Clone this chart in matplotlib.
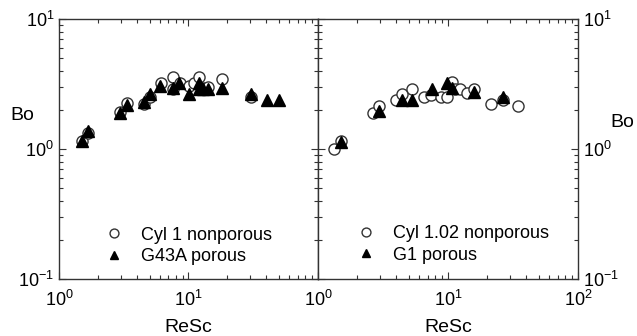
import numpy as np
import matplotlib
matplotlib.use('Agg')
from matplotlib import pyplot as plt

plt.rcParams['font.family'] = ['Liberation Sans', 'DejaVu Sans']
plt.rcParams['mathtext.fontset'] = 'custom'
plt.rcParams['mathtext.rm'] = 'Liberation Sans'

# left panel: Cyl 1 nonporous (circles), G43A porous (triangles)
cyl1_x = [1.50, 1.68, 2.96, 3.37, 4.56, 5.04, 6.10, 7.55, 7.55, 8.6, 10.1, 11.0, 12.0, 13.0, 14.2, 18.0, 30.2]
cyl1_y = [1.16, 1.32, 1.94, 2.27, 2.22, 2.53, 3.20, 3.60, 2.90, 3.20, 3.05, 3.20, 3.60, 2.93, 2.98, 3.44, 2.53]
g43a_x = [1.50, 1.68, 2.96, 3.37, 4.56, 5.04, 6.0, 7.6, 8.5, 10.1, 12.1, 12.1, 13.0, 14.2, 18.0, 30.2, 40.6, 50.3]
g43a_y = [1.15, 1.37, 1.90, 2.18, 2.31, 2.64, 3.05, 2.93, 3.24, 2.65, 3.20, 2.88, 2.88, 2.90, 2.93, 2.65, 2.38, 2.38]

# right panel: Cyl 1.02 nonporous (circles), G1 porous (triangles)
cyl102_x = [1.33, 1.50, 2.64, 2.96, 3.98, 4.40, 5.26, 6.54, 7.36, 8.79, 9.77, 10.7, 11.3, 12.4, 14.1, 15.9, 21.3, 26.4, 34.7]
cyl102_y = [1.00, 1.16, 1.90, 2.14, 2.38, 2.64, 2.88, 2.50, 2.60, 2.50, 2.53, 3.29, 2.88, 2.88, 2.68, 2.88, 2.22, 2.38, 2.14]
g1_x = [1.50, 2.96, 4.40, 5.26, 7.5, 9.77, 10.7, 15.9, 26.4]
g1_y = [1.14, 1.97, 2.38, 2.38, 2.88, 3.20, 2.93, 2.76, 2.50]

fig = plt.figure(figsize=(6.37, 3.36), dpi=100)
ax1 = fig.add_axes([0.0926, 0.1696, 0.4066, 0.774])
ax2 = fig.add_axes([0.4992, 0.1696, 0.4082, 0.774])

edge = '#333333'


def style(ax):
    ax.set_xscale('log')
    ax.set_yscale('log')
    ax.set_xlim(1, 100)
    ax.set_ylim(0.1, 10)
    for s in ax.spines.values():
        s.set_color(edge)
        s.set_linewidth(1.0)
    ax.tick_params(which='both', direction='in', top=True, right=True, left=True,
                   color=edge, labelsize=13)
    ax.tick_params(which='major', length=5, width=0.8)
    ax.tick_params(which='minor', length=3, width=0.8)
    ax.tick_params(axis='x', which='major', pad=8)
    ax.set_xticks([1, 10, 100])
    ax.set_yticks([0.1, 1, 10])


style(ax1)
style(ax2)

ax1.set_xticklabels([r'$\mathregular{10^{0}}$', r'$\mathregular{10^{1}}$', ''])
ax2.set_xticklabels([r'$\mathregular{10^{0}}$', r'$\mathregular{10^{1}}$', r'$\mathregular{10^{2}}$'])
ylabs = [r'$\mathregular{10^{-1}}$', r'$\mathregular{10^{0}}$', r'$\mathregular{10^{1}}$']
ax1.set_yticklabels(ylabs)
ax2.set_yticklabels(ylabs)
ax2.tick_params(axis='y', which='both', labelleft=False, labelright=True)

ax1.plot(cyl1_x, cyl1_y, 'o', ms=8, mfc='white', mec=edge, mew=1.0, label='Cyl 1 nonporous')
ax1.plot(g43a_x, g43a_y, '^', ms=8, mfc='black', mec='black', label='G43A porous')
ax2.plot(cyl102_x, cyl102_y, 'o', ms=8, mfc='white', mec=edge, mew=1.0, label='Cyl 1.02 nonporous')
ax2.plot(g1_x, g1_y, '^', ms=8, mfc='black', mec='black', label='G1 porous')

for ax, anchor in [(ax1, (0.13, 0.005)), (ax2, (0.10, 0.01))]:
    ax.legend(loc='lower left', bbox_to_anchor=anchor, frameon=False, fontsize=13,
              handletextpad=1.0, labelspacing=0.25, borderpad=0.2, handlelength=1.0,
              markerscale=0.8)

ax1.set_xlabel('ReSc', fontsize=14, labelpad=6)
ax2.set_xlabel('ReSc', fontsize=14, labelpad=6)
ax1.text(-0.14, 0.63, 'Bo', transform=ax1.transAxes, fontsize=14, ha='center', va='center')
ax2.text(1.17, 0.60, 'Bo', transform=ax2.transAxes, fontsize=14, ha='center', va='center')

plt.savefig('out.png', dpi=100)
